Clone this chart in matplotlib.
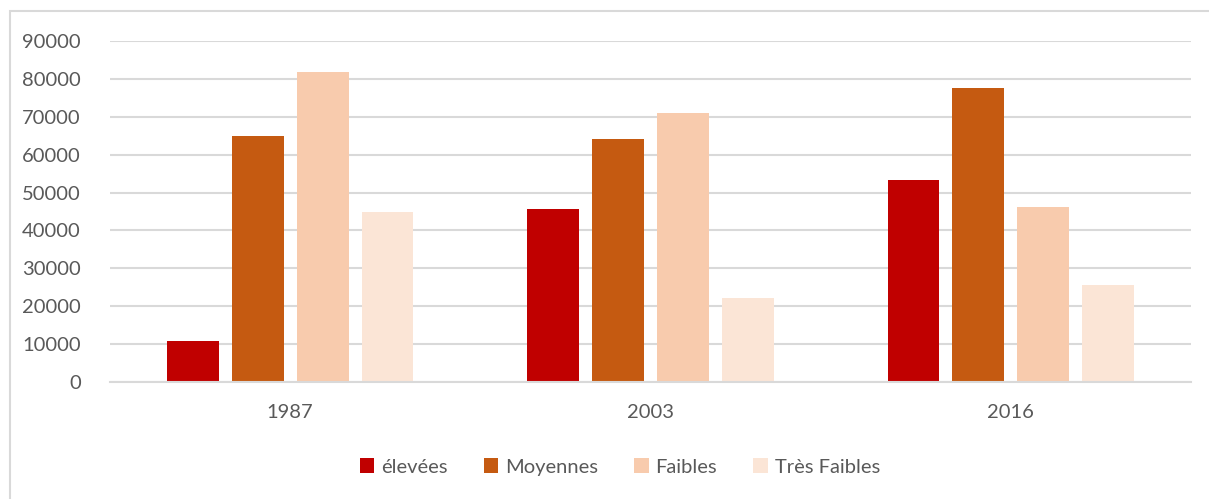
import numpy as np
import matplotlib.pyplot as plt
from matplotlib.patches import Rectangle

# values per year and class
years = ['1987', '2003', '2016']
classes = ['élevées', 'Moyennes', 'Faibles', 'Très Faibles']
elevees = [10800, 45700, 53300]
moyennes = [65000, 64100, 77600]
faibles = [81700, 71000, 46200]
tres_faibles = [45000, 22200, 25600]
series = [elevees, moyennes, faibles, tres_faibles]
colors = ['#C00000', '#C55A11', '#F8CBAD', '#FBE5D6']
yticks = np.arange(0, 90001, 10000)

txtCol = '#595959'
gridCol = '#D9D9D9'
plt.rcParams['font.family'] = ['Lato', 'DejaVu Sans']

fig = plt.figure(figsize=(12.09, 4.99), dpi=100)
ax = fig.add_axes([110 / 1209, 1 - 382 / 499, (1191 - 110) / 1209, (382 - 41) / 499])

# outer chart frame
fig.patches.append(Rectangle((10 / 1209, -0.1), 1.2, (499 - 11) / 499 + 0.1,
                             transform=fig.transFigure, fill=False,
                             edgecolor=gridCol, linewidth=1.5))

x = np.arange(len(years))
width = 0.144
step = 0.18
for i, (vals, lab, col) in enumerate(zip(series, classes, colors)):
    ax.bar(x + (i - 1.5) * step, vals, width, color=col, label=lab, zorder=2)

ax.set_xlim(-0.5, 2.5)
ax.set_ylim(0, 90000)
ax.set_yticks(yticks)
ax.set_yticklabels([str(v) for v in yticks])
ax.set_xticks(x)
ax.set_xticklabels(years)
ax.yaxis.grid(True, color=gridCol, linewidth=1.5, zorder=0)
ax.set_axisbelow(True)
for s in ['top', 'right', 'left']:
    ax.spines[s].set_visible(False)
ax.spines['bottom'].set_color(gridCol)
ax.spines['bottom'].set_linewidth(1.5)
ax.tick_params(axis='both', length=0, labelsize=14.5, colors=txtCol)
ax.tick_params(axis='y', pad=21)
ax.tick_params(axis='x', pad=16)

leg = fig.legend(loc='center', bbox_to_anchor=(620 / 1209, 1 - 467 / 499), ncol=4,
                 frameon=False, fontsize=14.5, handlelength=0.7, handleheight=0.7,
                 handletextpad=0.35, columnspacing=1.8)
for t in leg.get_texts():
    t.set_color(txtCol)

fig.savefig('out.png', dpi=100)
